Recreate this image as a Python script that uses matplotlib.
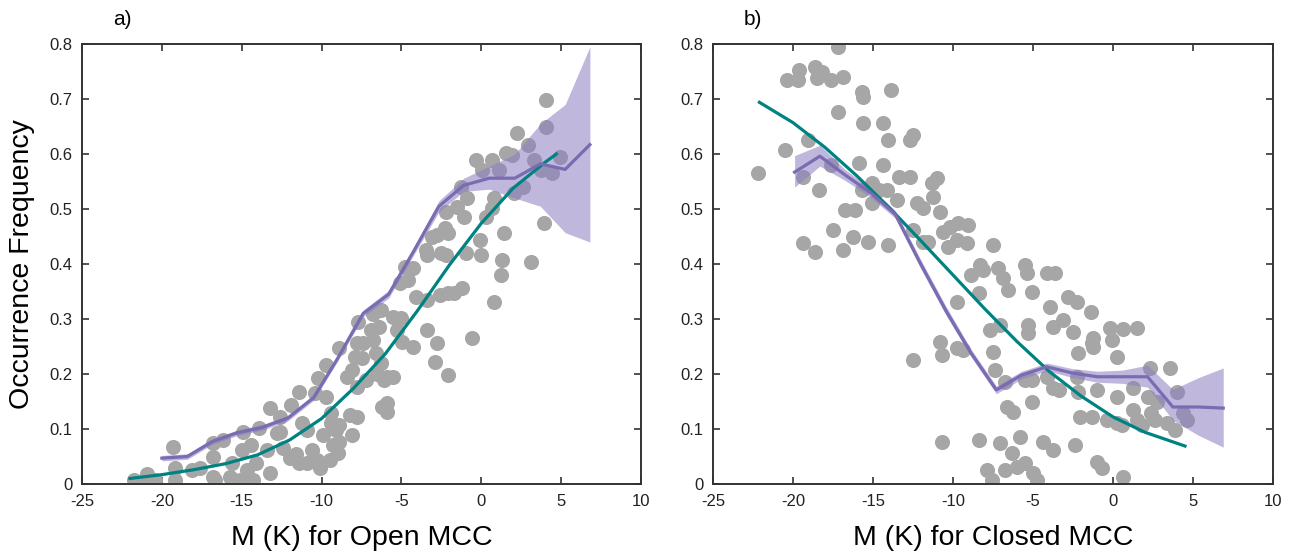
import numpy as np
import matplotlib
matplotlib.use("Agg")
import matplotlib.pyplot as plt

# ===============================
# 1. DATA
# ===============================
# panel a) open MCC - scatter
open_x = [-21.75, -21.2, -20.9, -20.4, -19.3, -19.2, -19.2, -18.1, -17.6, -16.8,
          -16.8, -16.8, -16.7, -16.2, -15.75, -15.6, -15.1, -15.0, -14.9, -14.7,
          -14.4, -14.3, -14.1, -13.9, -13.4, -13.25, -13.25, -12.8, -12.6, -12.6,
          -12.4, -12.0, -11.9, -11.8, -11.6, -11.4, -11.4, -11.2, -10.9, -10.9,
          -10.6, -10.4, -10.3, -10.25, -10.1, -9.9, -9.7, -9.7, -9.5, -9.4,
          -9.4, -9.3, -9.1, -9.0, -8.9, -8.9, -8.9, -8.4, -8.25, -8.1,
          -8.1, -7.9, -7.8, -7.8, -7.8, -7.75, -7.5, -7.4, -7.2, -6.9,
          -6.8, -6.8, -6.6, -6.5, -6.4, -6.25, -6.25, -6.2, -6.06, -5.9,
          -5.9, -5.9, -5.55, -5.55, -5.25, -5.1, -5.0, -4.94, -4.8, -4.6,
          -4.3, -4.3, -4.06, -3.44, -3.4, -3.4, -3.4, -3.06, -2.9, -2.8,
          -2.75, -2.6, -2.5, -2.3, -2.2, -2.2, -2.1, -2.1, -2.1, -1.7,
          -1.5, -1.25, -1.2, -1.06, -0.94, -0.9, -0.56, -0.3, -0.1, 0.0,
          0.06, 0.3, 0.7, 0.7, 0.8, 0.8, 1.1, 1.25, 1.3, 1.44,
          1.56, 1.94, 2.06, 2.25, 2.6, 2.9, 3.1, 3.3, 3.75, 3.9,
          4.06, 4.06, 4.4, 4.9]
open_y = [0.007, 0.005, 0.018, 0.007, 0.068, 0.029, 0.007, 0.025, 0.029, 0.049,
          0.074, 0.013, 0.007, 0.080, 0.013, 0.038, 0.007, 0.062, 0.095, 0.025,
          0.071, 0.007, 0.038, 0.102, 0.062, 0.020, 0.138, 0.093, 0.095, 0.122,
          0.065, 0.047, 0.144, 0.049, 0.055, 0.167, 0.038, 0.111, 0.038, 0.098,
          0.062, 0.165, 0.044, 0.193, 0.030, 0.089, 0.216, 0.158, 0.044, 0.129,
          0.111, 0.071, 0.098, 0.056, 0.107, 0.076, 0.247, 0.195, 0.125, 0.089,
          0.207, 0.231, 0.256, 0.176, 0.122, 0.295, 0.229, 0.256, 0.189, 0.280,
          0.262, 0.310, 0.238, 0.200, 0.285, 0.220, 0.316, 0.140, 0.189, 0.195,
          0.147, 0.131, 0.195, 0.304, 0.280, 0.365, 0.302, 0.258, 0.395, 0.371,
          0.249, 0.393, 0.340, 0.425, 0.335, 0.280, 0.416, 0.449, 0.222, 0.453,
          0.256, 0.344, 0.420, 0.465, 0.416, 0.495, 0.198, 0.456, 0.347, 0.347,
          0.504, 0.540, 0.356, 0.485, 0.420, 0.520, 0.265, 0.589, 0.444, 0.416,
          0.571, 0.485, 0.589, 0.502, 0.520, 0.331, 0.571, 0.380, 0.407, 0.456,
          0.602, 0.598, 0.529, 0.638, 0.540, 0.616, 0.404, 0.589, 0.571, 0.475,
          0.698, 0.650, 0.565, 0.595]

# panel b) closed MCC - scatter
closed_x = [-22.2, -20.5, -20.4, -19.7, -19.6, -19.4, -19.4, -19.06, -18.6, -18.6,
            -18.5, -18.4, -18.2, -17.6, -17.6, -17.5, -17.2, -17.2, -16.9, -16.9,
            -16.75, -16.25, -16.1, -15.9, -15.7, -15.6, -15.7, -15.6, -15.3, -15.06,
            -15.06, -14.6, -14.4, -14.4, -14.1, -14.06, -14.06, -13.9, -13.5, -13.4,
            -12.7, -12.5, -12.7, -12.5, -12.5, -12.25, -11.9, -11.9, -11.56, -11.3,
            -11.25, -11.0, -10.8, -10.8, -10.7, -10.7, -10.6, -10.3, -10.2, -9.75,
            -9.75, -9.75, -9.7, -9.4, -9.1, -9.06, -8.9, -8.4, -8.4, -8.3,
            -8.1, -7.9, -7.7, -7.56, -7.5, -7.5, -7.4, -7.2, -7.06, -7.06,
            -6.9, -6.75, -6.75, -6.6, -6.56, -6.3, -6.25, -6.0, -5.8, -5.5,
            -5.5, -5.5, -5.4, -5.3, -5.3, -5.06, -5.06, -5.06, -5.0, -4.75,
            -4.4, -4.1, -4.1, -3.94, -3.75, -3.75, -3.75, -3.6, -3.4, -3.1,
            -2.8, -2.5, -2.4, -2.25, -2.25, -2.2, -2.2, -2.06, -1.4, -1.3,
            -1.3, -1.25, -1.25, -1.0, -1.0, -0.7, -0.4, -0.2, -0.06, 0.25,
            0.25, 0.25, 0.56, 0.6, 0.6, 1.25, 1.25, 1.5, 1.5, 1.8,
            2.2, 2.3, 2.4, 2.6, 2.75, 3.4, 3.56, 3.9, 4.0, 4.4,
            4.6]
closed_y = [0.565, 0.607, 0.735, 0.735, 0.753, 0.558, 0.438, 0.625, 0.758, 0.422,
            0.738, 0.535, 0.749, 0.735, 0.580, 0.462, 0.795, 0.676, 0.740, 0.425,
            0.498, 0.449, 0.498, 0.584, 0.713, 0.704, 0.535, 0.656, 0.440, 0.547,
            0.511, 0.535, 0.656, 0.580, 0.535, 0.625, 0.435, 0.716, 0.516, 0.558,
            0.625, 0.635, 0.558, 0.462, 0.225, 0.511, 0.502, 0.440, 0.440, 0.547,
            0.522, 0.556, 0.495, 0.258, 0.235, 0.076, 0.458, 0.431, 0.467, 0.444,
            0.331, 0.247, 0.475, 0.244, 0.438, 0.471, 0.380, 0.080, 0.347, 0.398,
            0.389, 0.025, 0.280, 0.007, 0.435, 0.240, 0.207, 0.393, 0.289, 0.074,
            0.375, 0.185, 0.025, 0.140, 0.353, 0.056, 0.131, 0.031, 0.085, 0.398,
            0.189, 0.038, 0.384, 0.289, 0.275, 0.349, 0.189, 0.149, 0.020, 0.007,
            0.076, 0.384, 0.195, 0.322, 0.285, 0.175, 0.062, 0.384, 0.171, 0.298,
            0.340, 0.277, 0.071, 0.331, 0.195, 0.238, 0.167, 0.122, 0.313, 0.256,
            0.122, 0.265, 0.249, 0.171, 0.040, 0.029, 0.116, 0.284, 0.262, 0.231,
            0.158, 0.111, 0.107, 0.282, 0.013, 0.175, 0.135, 0.284, 0.116, 0.107,
            0.158, 0.211, 0.129, 0.116, 0.149, 0.111, 0.211, 0.098, 0.167, 0.129,
            0.116]

# logistic fits (teal)
fit_open_x = [-22, -20, -18, -16, -14, -12, -10, -8, -6, -4, -2, 0, 2, 4, 4.7]
fit_open_y = [0.010, 0.017, 0.026, 0.037, 0.053, 0.080, 0.119, 0.174, 0.237,
              0.315, 0.398, 0.474, 0.538, 0.585, 0.600]
fit_closed_x = [-22.1, -20, -18, -16, -14, -12, -10, -8, -6, -4, -2, 0, 2, 4, 4.5]
fit_closed_y = [0.694, 0.657, 0.612, 0.560, 0.503, 0.442, 0.380, 0.318, 0.259,
                0.205, 0.160, 0.122, 0.094, 0.074, 0.069]

# binned means (purple) with shaded spread
bin_open_x = [-20, -18.4, -16.85, -15.3, -13.7, -12.1, -10.5, -9.0, -7.4, -5.8,
              -4.2, -2.65, -1.1, 0.5, 2.1, 3.7, 5.25, 6.8]
bin_open_y = [0.047, 0.050, 0.077, 0.093, 0.103, 0.120, 0.157, 0.228, 0.310, 0.345,
              0.425, 0.505, 0.543, 0.556, 0.556, 0.582, 0.572, 0.617]
bin_open_hi = [0.052, 0.055, 0.082, 0.098, 0.108, 0.125, 0.162, 0.233, 0.316, 0.352,
               0.432, 0.515, 0.556, 0.578, 0.600, 0.655, 0.690, 0.795]
bin_open_lo = [0.042, 0.045, 0.072, 0.088, 0.098, 0.115, 0.152, 0.223, 0.304, 0.338,
               0.418, 0.495, 0.532, 0.536, 0.520, 0.505, 0.457, 0.440]

bin_closed_x = [-19.9, -18.32, -16.75, -15.17, -13.6, -12.02, -10.44, -8.87, -7.29,
                -5.72, -4.14, -2.57, -0.99, 0.58, 2.16, 3.74, 5.31, 6.89]
bin_closed_y = [0.567, 0.596, 0.562, 0.530, 0.490, 0.400, 0.315, 0.238, 0.171,
                0.198, 0.213, 0.202, 0.195, 0.195, 0.195, 0.140, 0.140, 0.138]
bin_closed_hi = [0.597, 0.616, 0.572, 0.538, 0.497, 0.408, 0.323, 0.245, 0.178,
                 0.205, 0.220, 0.210, 0.205, 0.207, 0.216, 0.172, 0.193, 0.211]
bin_closed_lo = [0.540, 0.578, 0.552, 0.522, 0.483, 0.392, 0.307, 0.231, 0.164,
                 0.191, 0.206, 0.194, 0.185, 0.183, 0.176, 0.116, 0.089, 0.067]

# ===============================
# 2. STYLE
# ===============================
plt.rcParams['font.family'] = ['Liberation Sans', 'DejaVu Sans']
plt.rcParams['axes.unicode_minus'] = False

DOT = '#a6a6a6'
TEAL = '#008282'
PURPLE = '#7a6bb2'
BAND = '#8c7dc0'
SPINE = '#333333'

fig = plt.figure(figsize=(12.96, 5.54), dpi=100)
ax_a = fig.add_axes([82 / 1296, 70 / 554, 559 / 1296, 440 / 554])
ax_b = fig.add_axes([713 / 1296, 70 / 554, 560 / 1296, 440 / 554])

panels = [
    (ax_a, open_x, open_y, fit_open_x, fit_open_y,
     bin_open_x, bin_open_y, bin_open_lo, bin_open_hi, 'M (K) for Open MCC', 'a)'),
    (ax_b, closed_x, closed_y, fit_closed_x, fit_closed_y,
     bin_closed_x, bin_closed_y, bin_closed_lo, bin_closed_hi, 'M (K) for Closed MCC', 'b)'),
]

# ===============================
# 3. PLOTS
# ===============================
for ax, sx, sy, fx, fy, bx, by, blo, bhi, xlabel, tag in panels:
    ax.scatter(sx, sy, s=118, color=DOT, linewidths=0, zorder=2)
    ax.fill_between(bx, blo, bhi, color=BAND, alpha=0.55, linewidth=0, zorder=3)
    ax.plot(fx, fy, color=TEAL, lw=2.3, zorder=4, solid_joinstyle='round')
    ax.plot(bx, by, color=PURPLE, lw=2.3, zorder=5)

    ax.set_xlim(-25, 10)
    ax.set_ylim(0, 0.8)
    ax.set_xticks(np.arange(-25, 11, 5))
    ax.set_yticks(np.arange(0, 0.81, 0.1))
    ax.set_yticklabels(['0', '0.1', '0.2', '0.3', '0.4', '0.5', '0.6', '0.7', '0.8'])
    ax.tick_params(direction='in', top=True, right=True, length=5, width=1.2,
                   color=SPINE, labelsize=12, labelcolor='#222222', pad=7)
    for sp in ax.spines.values():
        sp.set_color(SPINE)
        sp.set_linewidth(1.4)
    ax.set_xlabel(xlabel, fontsize=20.5, labelpad=12)
    ax.text(0.055, 1.035, tag, transform=ax.transAxes, fontsize=15, ha='left', va='bottom')

ax_a.set_ylabel('Occurrence Frequency', fontsize=20.5, labelpad=10)

plt.savefig("out.png", dpi=100)
